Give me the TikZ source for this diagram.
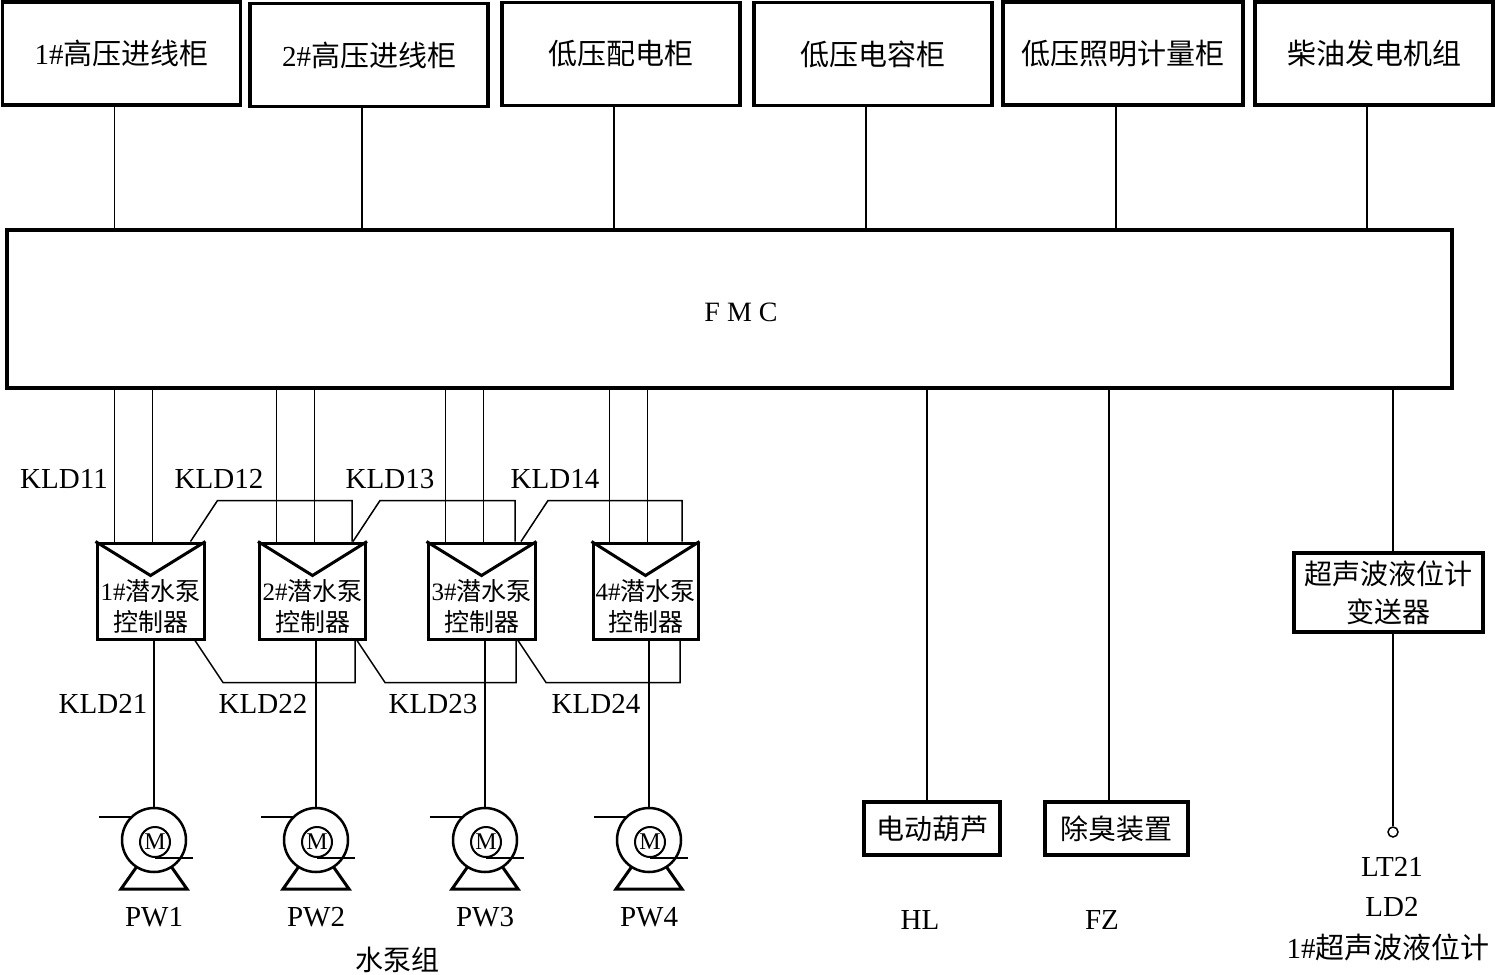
\documentclass[tikz,border=0pt]{standalone}
\usepackage{fontspec}
\setmainfont{Liberation Serif}
\newfontfamily\cjk{Noto Sans CJK SC}
\tikzset{
  topbox/.style={draw, line width=3.5pt, minimum width=238pt, minimum height=103pt, inner sep=0pt, font=\fontsize{29}{34}\selectfont},
  fmcbox/.style={draw, line width=3.5pt, minimum width=1445pt, minimum height=158pt, inner sep=0pt},
  ctrl/.style={draw, line width=3pt, minimum height=96pt, inner sep=0pt},
  ctrltext/.style={inner sep=0pt, align=center, font=\fontsize{25}{31}\selectfont},
  devbox/.style={draw, line width=3.5pt, minimum height=53pt, inner sep=0pt, font=\fontsize{28}{34}\selectfont\cjk},
  usbox/.style={draw, line width=3.5pt, minimum width=189pt, minimum height=79pt, inner sep=0pt, align=center, font=\fontsize{28}{38}\selectfont\cjk},
  wire/.style={line width=1.5pt},
  lbl/.style={inner sep=0pt, font=\fontsize{29}{34}\selectfont},
  motor/.style={draw, circle, fill=white, line width=2.5pt, minimum size=64pt, inner sep=0pt},
  rotor/.style={draw, circle, line width=2pt, minimum size=30pt, inner sep=0pt, font=\fontsize{24}{24}\selectfont},
  sensor/.style={draw, circle, fill=white, line width=1.5pt, minimum size=10pt, inner sep=0pt}
}
\begin{document}
\begin{tikzpicture}[x=1pt,y=-1pt]
\useasboundingbox (0,0) rectangle (1495,974);
\fill[white] (0,0) rectangle (1495,974);

% top cabinets
\node[topbox] (b1) at (121.5,53.5) {1\#{\cjk 高压进线柜}};
\node[topbox] (b2) at (369,55) {2\#{\cjk 高压进线柜}};
\node[topbox] (b3) at (621,54) {{\cjk 低压配电柜}};
\node[topbox] (b4) at (873,54) {{\cjk 低压电容柜}};
\node[topbox, minimum width=240pt] (b5) at (1123,53.5) {{\cjk 低压照明计量柜}};
\node[topbox] (b6) at (1374,53.5) {{\cjk 柴油发电机组}};

% FMC
\node[fmcbox] (fmc) at (729.5,309) {};
\node[lbl, font=\fontsize{28}{34}\selectfont] (fmcl) at (741,312) {F M C};

\foreach \i in {1,...,6}
  \draw[wire] ([xshift=-7pt]b\i.south) -- ([xshift=-7pt]b\i.south |- fmc.north);

% pump controllers
\foreach \i/\cx/\w in {1/150.5/107, 2/312.5/106, 3/481.5/107, 4/645.5/105}{
  \node[ctrl, minimum width=\w pt] (c\i) at (\cx,591) {};
  \draw[line width=3pt] (c\i.north west) -- ([yshift=-34pt]c\i.north) -- (c\i.north east);
  \node[ctrltext] (t\i) at (\cx,607) {\i\#{\cjk 潜水泵}\\{\cjk 控制器}};
  \draw[wire] ([xshift=-36pt]c\i.north) -- ([xshift=-36pt]c\i.north |- fmc.south);
  \draw[wire] ([xshift=2pt]c\i.north) -- ([xshift=2pt]c\i.north |- fmc.south);
}

% links between controllers (top)
\foreach \i/\j/\a/\b in {1/2/40/39.5, 2/3/40.5/33.5, 3/4/39.5/36.5}
  \draw[wire] ([xshift=\a pt]c\i.north) -- ([xshift={(\a+27)*1pt}, yshift=41pt]c\i.north) -| ([xshift=\b pt]c\j.north);

% links between controllers (bottom)
\foreach \i/\j/\a/\b in {1/2/44.5/42.5, 2/3/44.5/34.5, 3/4/36.5/34.5}
  \draw[wire] ([xshift=\a pt]c\i.south) -- ([xshift={(\a+28)*1pt}, yshift=-42pt]c\i.south) -| ([xshift=\b pt]c\j.south);

% KLD labels
\node[lbl] (k11) at (64,479) {KLD11};
\node[lbl] (k12) at (219,479) {KLD12};
\node[lbl] (k13) at (390,479) {KLD13};
\node[lbl] (k14) at (555,479) {KLD14};
\node[lbl] (k21) at (103,704) {KLD21};
\node[lbl] (k22) at (263,704) {KLD22};
\node[lbl] (k23) at (433,704) {KLD23};
\node[lbl] (k24) at (596,704) {KLD24};

% pumps
\foreach \i/\px in {1/154, 2/316, 3/485, 4/649}{
  \draw[wire] (\px-55,817) -- (\px,817);
  \draw[line width=3pt, line join=miter] (\px-33,889) -- (\px+33,889) -- (\px+14,862) -- (\px-14,862) -- cycle;
  \node[motor] (p\i) at (\px,840) {};
  \node[rotor] (m\i) at (\px+1,842) {M};
  \draw[wire] (m\i.south) -- ++(38,0);
  \draw[wire] (p\i.north) -- (p\i.north |- c\i.south);
  \node[lbl] (pw\i) at (\px,917) {PW\i};
}
\node[lbl, font=\fontsize{28}{34}\selectfont\cjk] (grp) at (397,960) {水泵组};

% hoist and deodorizer
\node[devbox, minimum width=136pt] (hl) at (932,828.5) {电动葫芦};
\node[devbox, minimum width=143pt] (fz) at (1116.5,828.5) {除臭装置};
\draw[wire] ([xshift=-5pt]hl.north) -- ([xshift=-5pt]hl.north |- fmc.south);
\draw[wire] ([xshift=-7.5pt]fz.north) -- ([xshift=-7.5pt]fz.north |- fmc.south);
\node[lbl] (hll) at (920,920) {HL};
\node[lbl] (fzl) at (1102,920) {FZ};

% ultrasonic level meter
\node[usbox] (us) at (1388.5,592.5) {超声波液位计\\变送器};
\node[sensor] (lt) at (1393,832) {};
\draw[wire] (lt.north |- fmc.south) -- (lt.north |- us.north);
\draw[wire] (lt.north |- us.south) -- (lt.north);
\node[lbl] (lt21) at (1392,867) {LT21};
\node[lbl] (ld2) at (1392,907) {LD2};
\node[lbl] (usl) at (1388,947) {1\#{\cjk 超声波液位计}};
\end{tikzpicture}
\end{document}
